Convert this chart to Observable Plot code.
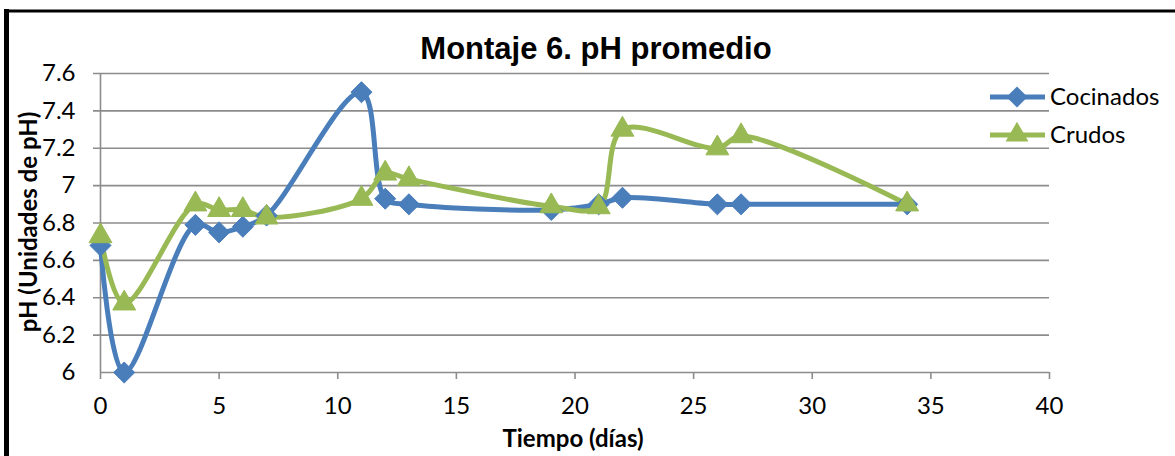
<!DOCTYPE html>
<html>
<head>
<meta charset="utf-8">
<script src="https://cdn.jsdelivr.net/npm/d3@7"></script>
<script src="https://cdn.jsdelivr.net/npm/@observablehq/plot@0.6"></script>
<style>
  html, body { margin: 0; padding: 0; background: #fff; }
  #chart { position: relative; width: 1175px; height: 456px; overflow: hidden; }
  svg { font-family: Lato, "Open Sans", sans-serif; }
</style>
</head>
<body>
<div id="chart"></div>
<script>
const days      = [0, 1, 4, 5, 6, 7, 11, 12, 13, 19, 21, 22, 26, 27, 34];
const cocinados = [6.68, 6.0, 6.79, 6.75, 6.78, 6.84, 7.5, 6.93, 6.9, 6.87, 6.9, 6.935, 6.9, 6.9, 6.9];
const crudos    = [6.73, 6.37, 6.9, 6.87, 6.87, 6.83, 6.93, 7.065, 7.035, 6.89, 6.885, 7.3, 7.2, 7.265, 6.9];
const seriesNames = ["Cocinados", "Crudos"];
const seriesColors = ["#4A7EBB", "#98B954"];
const xTicks = [0, 5, 10, 15, 20, 25, 30, 35, 40];
const yTicks = [6, 6.2, 6.4, 6.6, 6.8, 7, 7.2, 7.4, 7.6];
const titleText = "Montaje 6. pH promedio";
const xLabel = "Tiempo (días)";
const yLabel = "pH (Unidades de pH)";

const cocRows = days.map((d, i) => ({day: d, ph: cocinados[i], serie: seriesNames[0]}));
const cruRows = days.map((d, i) => ({day: d, ph: crudos[i], serie: seriesNames[1]}));

const gridColor = "#8c8c8c";
const plot = Plot.plot({
  width: 1175,
  height: 456,
  marginLeft: 100,
  marginRight: 126,
  marginTop: 73,
  marginBottom: 84,
  style: {fontFamily: "Lato, 'Open Sans', sans-serif", background: "#fff", overflow: "visible"},
  x: {type: "linear", domain: [0, 40], label: null},
  y: {type: "linear", domain: [6, 7.6], label: null},
  marks: [
    Plot.ruleY(yTicks.filter(v => v > 6), {y: d => d, x1: 0, x2: 40, insetLeft: -7, stroke: gridColor, strokeWidth: 1.6}),
    Plot.ruleY([6], {y: d => d, x1: 0, x2: 40, stroke: gridColor, strokeWidth: 1.6}),
    Plot.ruleX([0], {x: d => d, y1: 6, y2: 7.6, stroke: gridColor, strokeWidth: 1.6}),
    Plot.ruleX(xTicks, {x: d => d, y1: 6, y2: 6, insetBottom: -7, stroke: gridColor, strokeWidth: 1.6}),
    Plot.axisX({ticks: xTicks, tickSize: 0, tickPadding: 24, fontSize: 24, fill: "#000", label: null, tickFormat: d => String(d)}),
    Plot.axisY({ticks: yTicks, tickSize: 0, tickPadding: 25, fontSize: 24, fill: "#000", label: null, tickFormat: d => String(+d.toFixed(1))}),
    Plot.line(cocRows, {x: "day", y: "ph", stroke: seriesColors[0], strokeWidth: 5, curve: "catmull-rom"}),
    Plot.line(cruRows, {x: "day", y: "ph", stroke: seriesColors[1], strokeWidth: 5, curve: "catmull-rom"}),
    Plot.dot(cocRows, {x: "day", y: "ph", symbol: "diamond2", r: 9.5, fill: seriesColors[0], stroke: seriesColors[0], strokeWidth: 1}),
    Plot.dot(cruRows, {x: "day", y: "ph", symbol: "triangle", r: 8.5, fill: seriesColors[1], stroke: seriesColors[1], strokeWidth: 1})
  ]
});
document.getElementById("chart").appendChild(plot);

const svg = d3.select(plot);
// border (left and top)
svg.append("line").attr("x1", 6.5).attr("x2", 6.5).attr("y1", 9).attr("y2", 456).attr("stroke", "#000").attr("stroke-width", 5);
svg.append("line").attr("x1", 4).attr("x2", 1175).attr("y1", 11).attr("y2", 11).attr("stroke", "#000").attr("stroke-width", 3);
// title
svg.append("text").attr("x", 596).attr("y", 59).attr("text-anchor", "middle")
  .attr("font-family", "'Liberation Sans', Arial, sans-serif").attr("font-weight", "bold").attr("font-size", 31)
  .attr("fill", "#000").text(titleText);
// x label
svg.append("text").attr("x", 573).attr("y", 447).attr("text-anchor", "middle")
  .attr("font-weight", "bold").attr("font-size", 24).attr("fill", "#000").text(xLabel);
// y label
svg.append("text").attr("transform", "translate(37,222) rotate(-90)").attr("text-anchor", "middle")
  .attr("font-weight", "bold").attr("font-size", 24).attr("fill", "#000").text(yLabel);
// legend
const legY = [97, 135];
seriesNames.forEach((name, i) => {
  const g = svg.append("g");
  g.append("line").attr("x1", 990).attr("x2", 1045).attr("y1", legY[i]).attr("y2", legY[i])
    .attr("stroke", seriesColors[i]).attr("stroke-width", 5);
  const sym = i === 0 ? d3.symbolDiamond2 : d3.symbolTriangle;
  g.append("path").attr("d", d3.symbol(sym, i === 0 ? 284 : 227)()).attr("transform", `translate(1017,${legY[i]})`)
    .attr("fill", seriesColors[i]);
  g.append("text").attr("x", 1050).attr("y", legY[i]).attr("dy", "0.35em").attr("text-anchor", "start")
    .attr("font-size", 24).attr("fill", "#000").text(name);
});
</script>
</body>
</html>
